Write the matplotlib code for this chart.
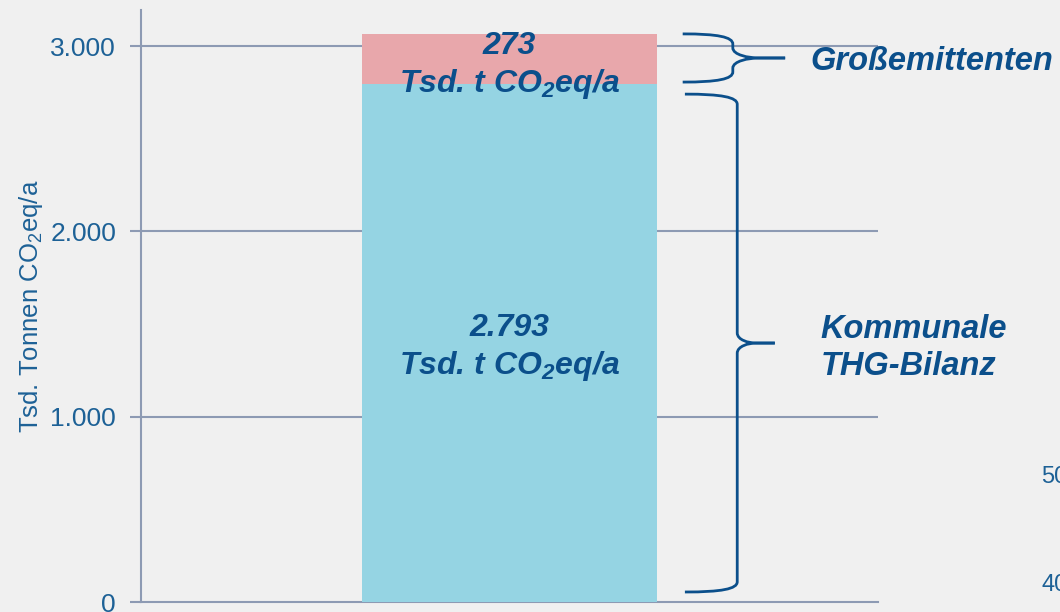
import matplotlib
matplotlib.use("Agg")
import matplotlib.pyplot as plt
from matplotlib.path import Path
from matplotlib.patches import PathPatch
import matplotlib.transforms as mtransforms

plt.rcParams['font.family'] = ['Liberation Sans', 'DejaVu Sans']
plt.rcParams['mathtext.fontset'] = 'custom'
plt.rcParams['mathtext.rm'] = 'Liberation Sans'
plt.rcParams['mathtext.it'] = 'Liberation Sans:italic'
plt.rcParams['mathtext.bf'] = 'Liberation Sans:italic:bold'

# emissions in Tsd. t CO2eq/a
kommunal = 2793
gross = 273
segment_names = ["Kommunale\nTHG-Bilanz", "Großemittenten"]
yticks = [0, 1000, 2000, 3000]
yticklabels = ["0", "1.000", "2.000", "3.000"]

bg = "#f0f0f0"
grid_col = "#8d9ab3"
tick_col = "#1d6196"
text_col = "#0b4f8b"
col_kommunal = "#95d4e3"
col_gross = "#e8a7ab"

fig = plt.figure(figsize=(10.6, 6.12), dpi=100, facecolor=bg)
ax = fig.add_axes([141 / 1060, 10 / 612, 737 / 1060, 592 / 612])
ax.set_facecolor(bg)

ax.bar(0.5, kommunal, width=0.4, color=col_kommunal, zorder=3)
ax.bar(0.5, gross, bottom=kommunal, width=0.4, color=col_gross, zorder=3)

ax.set_xlim(0, 1)
ax.set_ylim(0, 3195)
ax.set_xticks([])
ax.set_yticks(yticks)
ax.set_yticklabels(yticklabels, fontsize=19, color=tick_col)
ax.tick_params(axis='y', length=8, width=1.5, color=grid_col, pad=10)
for y in yticks[1:]:
    ax.axhline(y, color=grid_col, lw=1.5, zorder=1)
for s in ["top", "right"]:
    ax.spines[s].set_visible(False)
ax.spines["left"].set_color(grid_col)
ax.spines["left"].set_linewidth(1.5)
ax.spines["bottom"].set_color(grid_col)
ax.spines["bottom"].set_linewidth(1.5)
ax.set_ylabel(r"Tsd. Tonnen CO$_\mathrm{2}$eq/a", fontsize=18.5, color=tick_col, labelpad=4)

# value labels inside the bar (nudged down a little so the two lines sit centred)
nudge = 27
lab_kw = dict(ha="center", va="center", fontsize=23, color=text_col,
              fontweight="bold", fontstyle="italic", zorder=4, linespacing=1.25)
ax.text(0.5, kommunal / 2 - nudge, f"{kommunal / 1000:.3f}\nTsd. t CO$_\\mathbf{{2}}$eq/a", **lab_kw)
ax.text(0.5, kommunal + gross / 2 - 10 - nudge, f"{gross}\nTsd. t CO$_\\mathbf{{2}}$eq/a", **lab_kw)

trans = mtransforms.blended_transform_factory(ax.transAxes, ax.transData)


def brace(x0, x1, x2, ybot, ytop, r):
    ymid = (ybot + ytop) / 2
    for ye, sgn in [(ytop, -1), (ybot, 1)]:
        verts = [(x0, ye),
                 (x0 + 0.7 * (x1 - x0), ye), (x1, ye + sgn * 0.3 * r), (x1, ye + sgn * r),
                 (x1, ymid - sgn * r),
                 (x1, ymid - sgn * 0.3 * r), (x1 + 0.3 * (x2 - x1), ymid), (x1 + 0.5 * (x2 - x1), ymid),
                 (x2, ymid)]
        codes = [Path.MOVETO, Path.CURVE4, Path.CURVE4, Path.CURVE4, Path.LINETO,
                 Path.CURVE4, Path.CURVE4, Path.CURVE4, Path.LINETO]
        ax.add_patch(PathPatch(Path(verts, codes), transform=trans, fill=False,
                               edgecolor=text_col, lw=2, clip_on=False, zorder=5))
    return ymid


m1 = brace(0.735, 0.803, 0.874, kommunal + 13, kommunal + gross, 55)
m2 = brace(0.738, 0.809, 0.860, 54, kommunal - 52, 55)

name_kw = dict(va="center", ha="left", fontsize=23.5, color=text_col,
               fontweight="bold", fontstyle="italic", transform=trans, clip_on=False,
               linespacing=1.25)
ax.text(0.908, m1 - 20, segment_names[1], **name_kw)
ax.text(0.922, m2 - nudge, segment_names[0], **name_kw)

# neighbouring axis labels at the right border
fig.text(1041 / 1060, 1 - 477 / 612, "50", fontsize=17, color=tick_col, va="center")
fig.text(1041 / 1060, 1 - 585 / 612, "40", fontsize=17, color=tick_col, va="center")

fig.savefig("out.png", dpi=100, facecolor=bg)
